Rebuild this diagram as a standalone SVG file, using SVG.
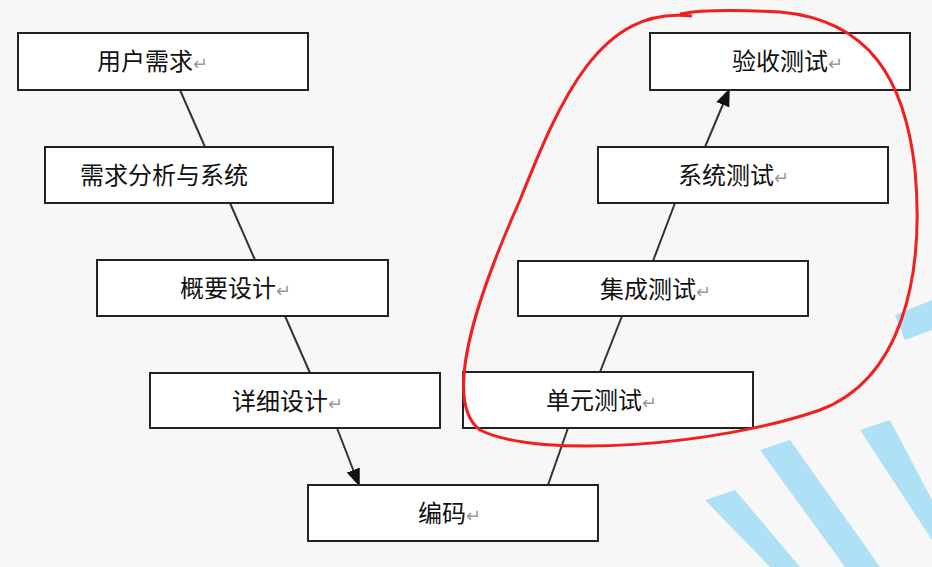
<svg xmlns="http://www.w3.org/2000/svg" width="932" height="567" viewBox="0 0 932 567">
<style>
.b{fill:#fff;stroke:#222;stroke-width:2}
.t{font-family:"Noto Sans CJK SC","Liberation Sans",sans-serif;font-size:24px;fill:#111}
.r{fill:#999;font-size:18px}
.c{stroke:#333;stroke-width:2;fill:none}
</style>
<defs><marker id="a" markerWidth="18" markerHeight="18" refX="16" refY="7" orient="auto" markerUnits="userSpaceOnUse" viewBox="0 0 18 14"><path d="M0,0L18,7L0,14z" fill="#111"/></marker></defs>
<rect width="932" height="567" fill="#f7f7f7"/>
<g fill="#aee0f6">
<path d="M895,315 L932,300 L932,330 L905,340z"/>
<path d="M860,430 L890,420 L932,500 L932,540 z"/>
<path d="M760,450 L790,440 L880,567 L845,567z"/>
<path d="M705,500 L735,490 L800,567 L770,567z"/>
</g>
<g id="connectors">
<path class="c" d="M180,90L205,147"/>
<path class="c" d="M230,203L255,260"/>
<path class="c" d="M285,316L310,373"/>
<path class="c" d="M337,428L359,485" marker-end="url(#a)"/>
<path class="c" d="M548,485L568,428"/>
<path class="c" d="M600,372L622,316"/>
<path class="c" d="M653,261L675,203"/>
<path class="c" d="M705,147L729,90" marker-end="url(#a)"/>
</g>
<g id="n1"><rect class="b" x="18" y="33" width="290" height="57"/><text class="t" x="97" y="70">用户需求<tspan class="r">↵</tspan></text></g>
<g id="n2"><rect class="b" x="45" y="147" width="288" height="56"/><text class="t" x="80" y="184">需求分析与系统</text></g>
<g id="n3"><rect class="b" x="97" y="260" width="291" height="56"/><text class="t" x="180" y="297">概要设计<tspan class="r">↵</tspan></text></g>
<g id="n4"><rect class="b" x="150" y="373" width="290" height="55"/><text class="t" x="232" y="410">详细设计<tspan class="r">↵</tspan></text></g>
<g id="n5"><rect class="b" x="308" y="485" width="290" height="56"/><text class="t" x="418" y="522">编码<tspan class="r">↵</tspan></text></g>
<g id="n6"><rect class="b" x="463" y="372" width="290" height="56"/><text class="t" x="546" y="409">单元测试<tspan class="r">↵</tspan></text></g>
<g id="n7"><rect class="b" x="518" y="261" width="290" height="55"/><text class="t" x="600" y="298">集成测试<tspan class="r">↵</tspan></text></g>
<g id="n8"><rect class="b" x="598" y="147" width="290" height="56"/><text class="t" x="678" y="184">系统测试<tspan class="r">↵</tspan></text></g>
<g id="n9"><rect class="b" x="650" y="33" width="260" height="57"/><text class="t" x="732" y="70">验收测试<tspan class="r">↵</tspan></text></g>
<path d="M692,16 C600,5 560,100 520,200 C480,290 440,400 480,430 C540,460 720,445 820,410 C900,380 925,280 915,170 C905,80 870,20 780,12 C740,10 700,10 680,14" fill="none" stroke="#f02020" stroke-width="3"/>
</svg>
